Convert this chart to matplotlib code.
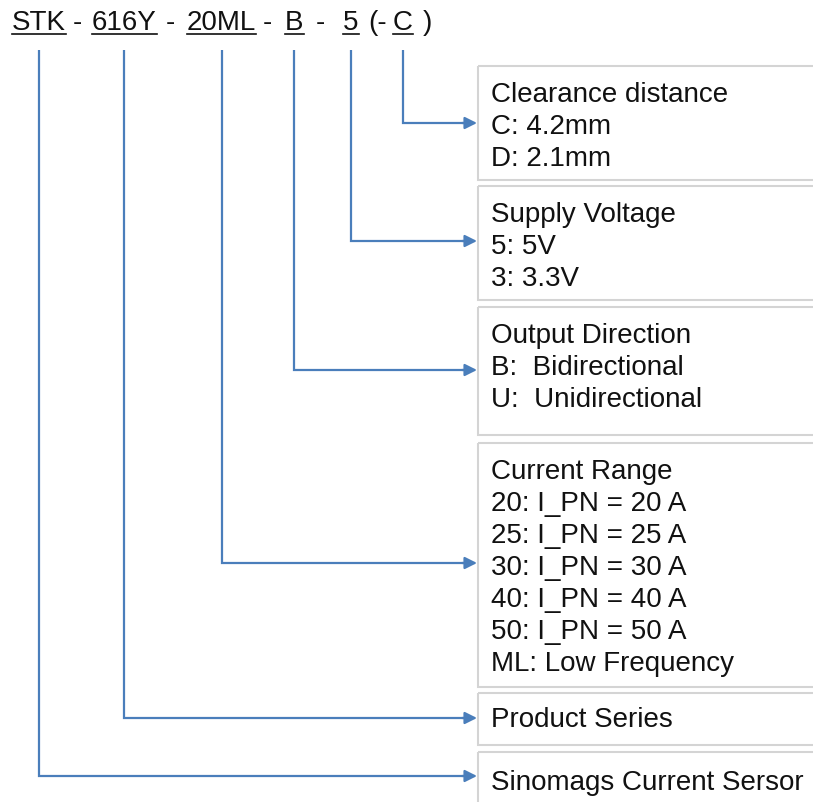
import matplotlib
matplotlib.use("Agg")
import matplotlib.pyplot as plt
from matplotlib.patches import Rectangle

# part-number pieces (text, underlined?)
code_parts = ["STK", "-", "616Y", "-", "20ML", "-", "B", "-", "5", "(-", "C", ")"]
underlined = [True, False, True, False, True, False, True, False, True, False, True, False]

# description boxes, top to bottom, and which code each belongs to
box_code = ["C", "5", "B", "20ML", "616Y", "STK"]
box_lines = [
    ["Clearance distance", "C: 4.2mm", "D: 2.1mm"],
    ["Supply Voltage", "5: 5V", "3: 3.3V"],
    ["Output Direction", "B:  Bidirectional", "U:  Unidirectional"],
    ["Current Range", "20: I_PN = 20 A", "25: I_PN = 25 A", "30: I_PN = 30 A",
     "40: I_PN = 40 A", "50: I_PN = 50 A", "ML: Low Frequency"],
    ["Product Series"],
    ["Sinomags Current Sersor"],
]

# layout in pixel coordinates
part_x = [12, 73, 92, 166, 187, 263, 285, 316, 343, 368, 393, 423]
box_top = [66, 186, 307, 443, 693, 752]
box_bot = [180, 300, 435, 687, 745, 812]
arrow_y = [123, 241, 370, 563, 718, 776]
box_left = 478
line_step = 32
blue = "#4a7ebb"
grey = "#d4d4d4"
font = "Liberation Sans"

fig = plt.figure(figsize=(8.13, 8.02), dpi=100)
ax = fig.add_axes([0, 0, 1, 1])
ax.set_xlim(0, 813)
ax.set_ylim(802, 0)
ax.axis("off")

fig.canvas.draw()
renderer = fig.canvas.get_renderer()
inv = ax.transData.inverted()
centers = {}
for txt, x, ul in zip(code_parts, part_x, underlined):
    t = ax.text(x, 23, txt, fontsize=20, family=font, va="center", ha="left", color="#111111")
    if ul:
        bb = t.get_window_extent(renderer)
        (x0, y0), (x1, y1) = inv.transform([(bb.x0, bb.y0), (bb.x1, bb.y1)])
        ax.plot([x0, x1], [34, 34], color="#111111", lw=1.2)
        centers[txt] = (x0 + x1) / 2

for code, top, bot, y, lines in zip(box_code, box_top, box_bot, arrow_y, box_lines):
    ax.add_patch(Rectangle((box_left, top), 400, bot - top, fill=False,
                           edgecolor=grey, lw=1.5, clip_on=True))
    for i, s in enumerate(lines):
        ty = top + 29 + i * line_step if len(lines) > 1 else (top + bot) / 2 + 1
        ax.text(491, ty, s, fontsize=20, family=font, va="center", ha="left", color="#111111")
    cx = centers[code]
    ax.plot([cx, cx, 466], [50, y, y], color=blue, lw=1.6,
            solid_joinstyle="miter", solid_capstyle="butt")
    ax.annotate("", xy=(477, y), xytext=(462, y),
                arrowprops=dict(arrowstyle="-|>", color=blue, lw=1.6,
                                mutation_scale=18, shrinkA=0, shrinkB=0))

fig.savefig("out.png", dpi=100)
